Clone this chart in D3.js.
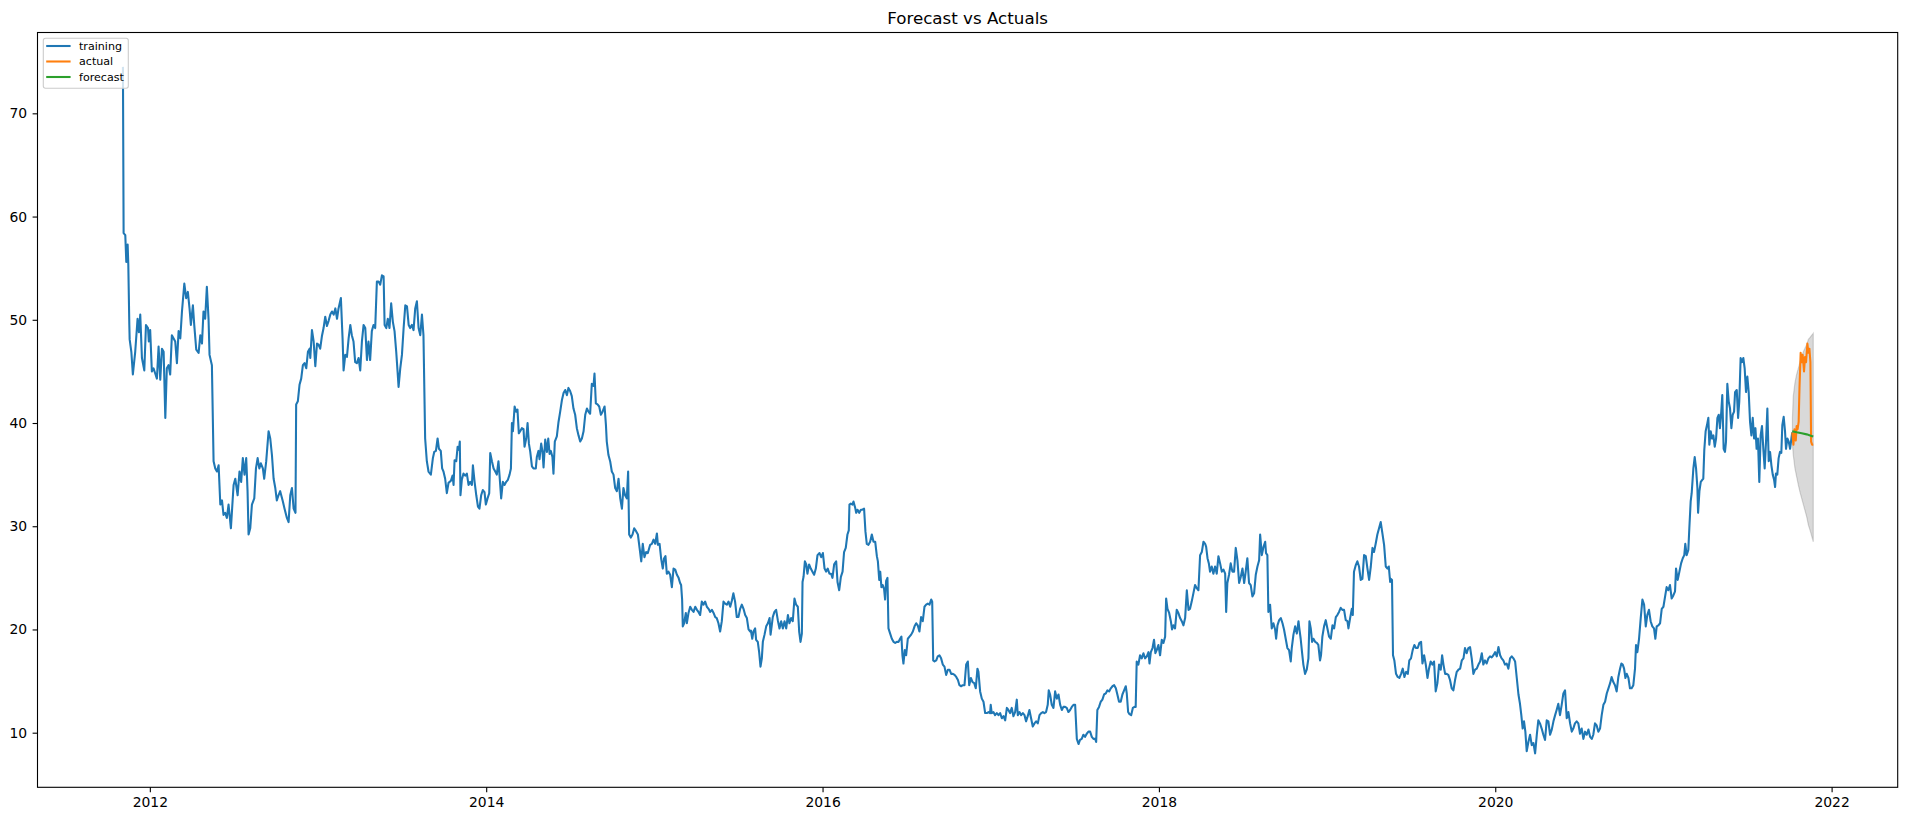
<!DOCTYPE html>
<html>
<head>
<meta charset="utf-8">
<title>Forecast vs Actuals</title>
<script src="https://cdn.jsdelivr.net/npm/d3@7"></script>
<style>
  body { margin: 0; background: #ffffff; }
  text { font-family: "DejaVu Sans", sans-serif; }
</style>
</head>
<body>
<div id="chart"></div>
<script>
const training = [
  [2011.840, 74.5], [2011.844, 58.4], [2011.854, 58.2], [2011.860, 55.6], [2011.868, 57.3], [2011.872, 55.3],
  [2011.878, 49.5], [2011.880, 48.1], [2011.890, 46.9], [2011.899, 44.7], [2011.913, 46.9], [2011.927, 50.1],
  [2011.935, 48.8], [2011.943, 50.5], [2011.953, 46.3], [2011.967, 45.1], [2011.977, 49.5], [2011.989, 49.2],
  [2011.994, 47.9], [2012.002, 49.0], [2012.012, 45.0], [2012.022, 45.3], [2012.032, 44.8], [2012.042, 44.3],
  [2012.052, 47.4], [2012.062, 44.2], [2012.072, 47.2], [2012.082, 46.9], [2012.092, 40.5], [2012.101, 45.3],
  [2012.111, 45.6], [2012.121, 44.7], [2012.131, 48.5], [2012.151, 47.9], [2012.161, 45.8], [2012.171, 48.9],
  [2012.181, 48.2], [2012.191, 50.8], [2012.205, 53.5], [2012.216, 52.1], [2012.226, 52.7], [2012.236, 51.1],
  [2012.244, 49.5], [2012.256, 51.4], [2012.264, 49.5], [2012.276, 47.1], [2012.290, 46.8], [2012.300, 48.5],
  [2012.310, 47.7], [2012.319, 50.8], [2012.329, 50.1], [2012.339, 53.2], [2012.349, 50.1], [2012.355, 46.6],
  [2012.369, 45.6], [2012.379, 36.3], [2012.389, 35.6], [2012.399, 35.3], [2012.409, 35.9], [2012.419, 32.1],
  [2012.429, 32.5], [2012.438, 31.1], [2012.448, 31.3], [2012.458, 30.8], [2012.468, 32.1], [2012.482, 29.8],
  [2012.498, 34.0], [2012.508, 34.6], [2012.522, 33.0], [2012.533, 35.3], [2012.543, 34.3], [2012.553, 36.6],
  [2012.563, 35.0], [2012.573, 36.6], [2012.581, 33.4], [2012.587, 29.2], [2012.597, 29.8], [2012.607, 32.1],
  [2012.621, 32.7], [2012.631, 35.6], [2012.641, 36.6], [2012.651, 35.6], [2012.660, 36.1], [2012.672, 35.6],
  [2012.680, 34.6], [2012.692, 36.3], [2012.706, 39.2], [2012.716, 38.5], [2012.726, 36.9], [2012.736, 34.6],
  [2012.746, 33.7], [2012.755, 32.5], [2012.765, 33.0], [2012.775, 33.4], [2012.791, 32.4], [2012.801, 31.7],
  [2012.815, 30.8], [2012.825, 30.4], [2012.835, 33.0], [2012.845, 33.7], [2012.855, 31.7], [2012.866, 31.3],
  [2012.870, 41.8], [2012.880, 42.1], [2012.890, 43.7], [2012.900, 44.3], [2012.910, 45.6], [2012.920, 45.8],
  [2012.930, 45.3], [2012.940, 46.9], [2012.950, 47.2], [2012.954, 46.3], [2012.964, 49.0], [2012.974, 47.9],
  [2012.984, 45.5], [2012.994, 47.7], [2013.003, 47.6], [2013.013, 47.2], [2013.023, 48.4], [2013.033, 49.2],
  [2013.043, 50.3], [2013.053, 49.4], [2013.063, 49.9], [2013.073, 50.5], [2013.083, 50.8], [2013.093, 50.5],
  [2013.103, 51.1], [2013.113, 50.1], [2013.122, 51.1], [2013.136, 52.1], [2013.146, 48.2], [2013.152, 45.1],
  [2013.162, 46.6], [2013.172, 46.4], [2013.182, 48.2], [2013.192, 49.5], [2013.201, 48.5], [2013.211, 47.9],
  [2013.221, 45.9], [2013.231, 45.8], [2013.241, 46.3], [2013.251, 45.1], [2013.261, 47.9], [2013.271, 49.5],
  [2013.281, 49.2], [2013.291, 46.1], [2013.300, 47.9], [2013.310, 46.1], [2013.320, 48.9], [2013.330, 49.5],
  [2013.340, 49.2], [2013.350, 53.7], [2013.360, 53.7], [2013.370, 53.4], [2013.380, 54.3], [2013.390, 54.2],
  [2013.396, 49.5], [2013.406, 49.2], [2013.415, 50.1], [2013.425, 49.2], [2013.435, 51.6], [2013.445, 49.8],
  [2013.455, 48.9], [2013.465, 46.9], [2013.473, 45.0], [2013.479, 43.5], [2013.489, 45.3], [2013.499, 46.6],
  [2013.509, 49.2], [2013.519, 51.4], [2013.529, 51.3], [2013.539, 49.5], [2013.548, 49.2], [2013.558, 49.5],
  [2013.568, 49.0], [2013.578, 51.1], [2013.588, 51.8], [2013.598, 49.2], [2013.608, 48.5], [2013.618, 50.5],
  [2013.627, 48.5], [2013.637, 38.5], [2013.647, 36.3], [2013.657, 35.3], [2013.671, 35.0], [2013.683, 36.6],
  [2013.691, 37.2], [2013.701, 37.3], [2013.711, 38.5], [2013.719, 37.5], [2013.730, 37.3], [2013.738, 35.6],
  [2013.746, 35.3], [2013.756, 34.6], [2013.766, 33.2], [2013.776, 34.2], [2013.790, 34.4], [2013.800, 34.9],
  [2013.806, 34.0], [2013.812, 36.4], [2013.822, 36.3], [2013.830, 37.7], [2013.838, 37.4], [2013.843, 38.2],
  [2013.847, 33.0], [2013.855, 34.5], [2013.865, 35.1], [2013.875, 34.9], [2013.885, 35.1], [2013.895, 34.0],
  [2013.905, 34.3], [2013.915, 34.0], [2013.921, 35.9], [2013.931, 34.3], [2013.941, 33.0], [2013.951, 31.9],
  [2013.960, 31.7], [2013.970, 33.0], [2013.980, 33.5], [2013.990, 33.3], [2013.998, 32.1], [2014.008, 32.7],
  [2014.018, 33.2], [2014.024, 37.1], [2014.034, 36.3], [2014.044, 35.6], [2014.054, 35.3], [2014.063, 35.0],
  [2014.073, 36.3], [2014.079, 35.0], [2014.089, 32.7], [2014.099, 34.3], [2014.109, 34.0], [2014.119, 34.3],
  [2014.129, 34.5], [2014.139, 35.0], [2014.147, 35.6], [2014.153, 40.0], [2014.159, 39.2], [2014.169, 41.6],
  [2014.178, 41.1], [2014.186, 41.3], [2014.194, 39.0], [2014.202, 39.2], [2014.212, 39.5], [2014.222, 39.4],
  [2014.228, 37.7], [2014.238, 38.5], [2014.246, 40.0], [2014.254, 38.0], [2014.262, 37.2], [2014.272, 35.8],
  [2014.281, 35.6], [2014.295, 35.6], [2014.301, 36.7], [2014.311, 37.3], [2014.317, 36.5], [2014.327, 38.0],
  [2014.335, 37.2], [2014.341, 35.7], [2014.351, 38.4], [2014.361, 37.2], [2014.369, 38.5], [2014.377, 37.0],
  [2014.384, 37.3], [2014.394, 36.7], [2014.400, 35.1], [2014.408, 38.2], [2014.420, 38.7], [2014.430, 40.1],
  [2014.440, 41.1], [2014.450, 42.2], [2014.460, 42.9], [2014.470, 43.2], [2014.480, 42.7], [2014.489, 43.4],
  [2014.499, 43.1], [2014.509, 42.6], [2014.519, 41.4], [2014.529, 40.8], [2014.539, 39.5], [2014.549, 38.8],
  [2014.559, 38.2], [2014.569, 38.5], [2014.579, 39.2], [2014.589, 40.8], [2014.599, 41.4], [2014.608, 41.1],
  [2014.618, 40.9], [2014.628, 43.8], [2014.638, 43.6], [2014.644, 44.8], [2014.652, 41.9], [2014.662, 41.8],
  [2014.672, 41.6], [2014.682, 40.8], [2014.692, 41.1], [2014.704, 41.6], [2014.712, 39.8], [2014.717, 38.2],
  [2014.727, 36.9], [2014.737, 36.3], [2014.747, 35.3], [2014.757, 35.0], [2014.767, 33.7], [2014.777, 33.4],
  [2014.787, 34.6], [2014.797, 32.7], [2014.807, 31.7], [2014.816, 33.7], [2014.826, 33.0], [2014.836, 32.7],
  [2014.844, 35.3], [2014.850, 29.2], [2014.860, 28.9], [2014.870, 29.2], [2014.880, 29.8], [2014.892, 29.5],
  [2014.902, 29.2], [2014.912, 27.9], [2014.922, 26.6], [2014.931, 28.3], [2014.941, 27.0], [2014.951, 27.5],
  [2014.961, 27.4], [2014.975, 28.2], [2014.985, 28.3], [2014.995, 28.7], [2015.005, 28.3], [2015.015, 29.3],
  [2015.021, 28.2], [2015.031, 28.3], [2015.040, 26.9], [2015.050, 25.9], [2015.058, 26.9], [2015.066, 27.1],
  [2015.074, 25.4], [2015.084, 25.6], [2015.094, 25.3], [2015.104, 24.1], [2015.114, 25.9], [2015.124, 25.8],
  [2015.134, 25.3], [2015.144, 25.0], [2015.153, 24.5], [2015.159, 24.3], [2015.165, 22.9], [2015.169, 20.3],
  [2015.177, 20.6], [2015.187, 21.6], [2015.193, 20.6], [2015.203, 21.6], [2015.213, 22.2], [2015.223, 21.9],
  [2015.233, 21.7], [2015.243, 22.2], [2015.253, 21.9], [2015.262, 21.7], [2015.272, 21.4], [2015.282, 22.7],
  [2015.292, 22.4], [2015.302, 22.7], [2015.312, 22.2], [2015.322, 22.0], [2015.332, 21.7], [2015.342, 21.9],
  [2015.352, 21.6], [2015.362, 21.2], [2015.371, 21.1], [2015.381, 20.6], [2015.391, 19.8], [2015.401, 20.8],
  [2015.411, 22.7], [2015.421, 22.5], [2015.431, 22.4], [2015.441, 22.7], [2015.451, 22.2], [2015.461, 22.8],
  [2015.470, 23.5], [2015.480, 22.7], [2015.490, 21.2], [2015.500, 21.2], [2015.510, 22.0], [2015.520, 22.4],
  [2015.530, 22.0], [2015.540, 21.4], [2015.550, 21.1], [2015.560, 20.0], [2015.570, 19.8], [2015.574, 19.9],
  [2015.582, 19.1], [2015.589, 19.8], [2015.599, 20.1], [2015.605, 19.0], [2015.615, 18.8], [2015.623, 17.8],
  [2015.631, 16.4], [2015.639, 17.2], [2015.645, 18.8], [2015.655, 19.5], [2015.665, 20.3], [2015.675, 20.6],
  [2015.685, 21.1], [2015.691, 19.5], [2015.698, 20.4], [2015.704, 21.2], [2015.714, 21.7], [2015.724, 21.9],
  [2015.734, 20.9], [2015.744, 20.1], [2015.754, 20.8], [2015.764, 20.1], [2015.774, 20.8], [2015.784, 20.1],
  [2015.794, 21.4], [2015.803, 20.6], [2015.813, 21.1], [2015.823, 20.8], [2015.833, 23.0], [2015.843, 22.4],
  [2015.853, 22.2], [2015.861, 19.8], [2015.869, 18.8], [2015.877, 19.6], [2015.881, 24.6], [2015.887, 25.1],
  [2015.895, 26.6], [2015.903, 26.3], [2015.910, 25.4], [2015.920, 26.3], [2015.930, 25.9], [2015.940, 25.6],
  [2015.950, 25.3], [2015.960, 25.9], [2015.970, 27.2], [2015.982, 27.4], [2015.992, 27.0], [2016.002, 27.4],
  [2016.012, 25.9], [2016.021, 25.6], [2016.031, 25.9], [2016.041, 25.4], [2016.051, 25.4], [2016.059, 25.0],
  [2016.069, 26.3], [2016.081, 26.6], [2016.089, 24.6], [2016.099, 23.8], [2016.109, 25.1], [2016.119, 25.6],
  [2016.128, 27.5], [2016.138, 27.9], [2016.148, 29.2], [2016.156, 29.6], [2016.160, 32.1], [2016.168, 32.2],
  [2016.178, 32.1], [2016.184, 32.4], [2016.194, 31.8], [2016.200, 31.3], [2016.208, 31.6], [2016.218, 31.3],
  [2016.228, 31.6], [2016.237, 31.6], [2016.247, 31.7], [2016.255, 29.5], [2016.263, 28.3], [2016.273, 28.2],
  [2016.283, 28.5], [2016.293, 29.2], [2016.303, 28.5], [2016.313, 28.5], [2016.323, 27.1], [2016.329, 26.6],
  [2016.337, 24.8], [2016.343, 25.6], [2016.350, 24.1], [2016.358, 24.3], [2016.366, 23.9], [2016.372, 22.9],
  [2016.378, 24.7], [2016.386, 25.0], [2016.392, 20.1], [2016.402, 19.6], [2016.412, 19.1], [2016.422, 18.8],
  [2016.432, 18.7], [2016.442, 18.8], [2016.452, 18.8], [2016.461, 19.1], [2016.469, 19.3], [2016.475, 17.5],
  [2016.481, 16.7], [2016.489, 18.0], [2016.497, 17.5], [2016.507, 19.1], [2016.517, 19.3], [2016.527, 19.5],
  [2016.537, 19.8], [2016.547, 20.3], [2016.557, 20.6], [2016.566, 20.4], [2016.576, 19.8], [2016.586, 21.2],
  [2016.596, 20.8], [2016.606, 22.2], [2016.616, 22.4], [2016.626, 22.5], [2016.636, 22.4], [2016.646, 22.9],
  [2016.652, 22.7], [2016.658, 17.0], [2016.666, 16.9], [2016.676, 17.0], [2016.685, 17.4], [2016.695, 17.5],
  [2016.705, 17.2], [2016.715, 16.6], [2016.725, 16.4], [2016.735, 15.6], [2016.745, 16.1], [2016.755, 16.1],
  [2016.765, 15.7], [2016.775, 15.7], [2016.785, 15.6], [2016.795, 15.4], [2016.805, 15.1], [2016.814, 14.6],
  [2016.824, 14.5], [2016.834, 14.6], [2016.844, 14.6], [2016.854, 16.6], [2016.864, 16.9], [2016.872, 14.6],
  [2016.882, 15.3], [2016.892, 14.9], [2016.902, 14.8], [2016.911, 14.3], [2016.921, 16.2], [2016.927, 15.9],
  [2016.937, 14.0], [2016.947, 13.3], [2016.957, 13.0], [2016.967, 11.9], [2016.977, 11.9], [2016.987, 12.0],
  [2016.996, 11.9], [2017.000, 12.7], [2017.006, 11.9], [2017.016, 12.0], [2017.026, 11.7], [2017.036, 11.9],
  [2017.046, 11.7], [2017.056, 11.9], [2017.066, 11.4], [2017.076, 11.6], [2017.086, 11.2], [2017.096, 12.4],
  [2017.105, 12.2], [2017.115, 11.9], [2017.125, 12.4], [2017.135, 11.6], [2017.145, 12.0], [2017.155, 13.2],
  [2017.161, 11.7], [2017.171, 12.0], [2017.181, 11.7], [2017.191, 11.9], [2017.201, 11.7], [2017.210, 11.1],
  [2017.220, 11.6], [2017.230, 12.2], [2017.240, 11.4], [2017.250, 10.6], [2017.260, 10.9], [2017.270, 11.1],
  [2017.280, 10.9], [2017.290, 11.7], [2017.300, 11.9], [2017.310, 12.0], [2017.319, 11.9], [2017.329, 12.0],
  [2017.339, 12.7], [2017.345, 14.1], [2017.353, 13.7], [2017.363, 12.7], [2017.373, 12.4], [2017.383, 14.0],
  [2017.393, 13.3], [2017.403, 13.7], [2017.413, 12.7], [2017.423, 12.2], [2017.432, 12.5], [2017.442, 12.5],
  [2017.452, 12.4], [2017.462, 12.0], [2017.472, 12.2], [2017.482, 12.5], [2017.492, 12.7], [2017.502, 12.7],
  [2017.512, 9.4], [2017.522, 8.9], [2017.531, 9.3], [2017.541, 9.4], [2017.551, 9.8], [2017.561, 9.6],
  [2017.571, 9.9], [2017.581, 10.1], [2017.591, 10.1], [2017.601, 9.6], [2017.611, 9.4], [2017.621, 9.4],
  [2017.627, 9.1], [2017.634, 12.2], [2017.644, 12.5], [2017.654, 13.0], [2017.664, 13.2], [2017.674, 13.7],
  [2017.684, 13.8], [2017.694, 14.1], [2017.704, 14.0], [2017.714, 14.3], [2017.724, 14.5], [2017.734, 14.6],
  [2017.744, 14.3], [2017.753, 13.7], [2017.763, 13.0], [2017.773, 13.0], [2017.783, 13.7], [2017.793, 14.1],
  [2017.803, 14.5], [2017.809, 13.8], [2017.817, 12.0], [2017.825, 11.8], [2017.835, 11.7], [2017.845, 12.4],
  [2017.855, 12.5], [2017.862, 12.5], [2017.868, 16.9], [2017.878, 16.6], [2017.888, 17.5], [2017.898, 17.2],
  [2017.908, 17.7], [2017.918, 17.2], [2017.928, 17.4], [2017.938, 17.8], [2017.944, 16.7], [2017.952, 17.8],
  [2017.962, 18.2], [2017.971, 19.0], [2017.979, 17.7], [2017.987, 18.0], [2017.997, 18.5], [2018.007, 17.5],
  [2018.017, 19.0], [2018.027, 18.7], [2018.037, 19.3], [2018.043, 23.0], [2018.051, 22.0], [2018.061, 21.6],
  [2018.071, 20.8], [2018.078, 20.0], [2018.086, 20.4], [2018.096, 20.1], [2018.106, 21.9], [2018.116, 21.6],
  [2018.126, 21.1], [2018.136, 20.8], [2018.146, 20.4], [2018.156, 21.1], [2018.166, 23.8], [2018.176, 21.9],
  [2018.185, 22.0], [2018.195, 22.7], [2018.205, 23.5], [2018.215, 24.3], [2018.225, 24.0], [2018.235, 23.8],
  [2018.245, 27.2], [2018.255, 27.5], [2018.265, 28.5], [2018.275, 28.3], [2018.281, 28.0], [2018.289, 26.9],
  [2018.297, 26.4], [2018.304, 25.6], [2018.314, 26.1], [2018.324, 25.4], [2018.334, 26.1], [2018.344, 25.4],
  [2018.354, 27.1], [2018.364, 26.4], [2018.374, 25.6], [2018.384, 25.8], [2018.394, 25.4], [2018.400, 21.7],
  [2018.407, 24.5], [2018.417, 25.3], [2018.427, 26.4], [2018.437, 25.6], [2018.447, 25.6], [2018.457, 27.9],
  [2018.467, 26.7], [2018.477, 24.5], [2018.487, 25.1], [2018.497, 25.9], [2018.507, 24.5], [2018.516, 25.6],
  [2018.526, 26.9], [2018.536, 24.5], [2018.546, 24.3], [2018.556, 23.2], [2018.566, 23.5], [2018.576, 25.3],
  [2018.586, 26.1], [2018.596, 26.7], [2018.602, 29.2], [2018.612, 27.2], [2018.622, 28.0], [2018.632, 28.5],
  [2018.637, 27.4], [2018.645, 27.2], [2018.651, 21.7], [2018.661, 22.4], [2018.671, 20.1], [2018.681, 20.6],
  [2018.691, 20.0], [2018.697, 19.1], [2018.705, 20.4], [2018.715, 20.9], [2018.725, 21.1], [2018.735, 20.6],
  [2018.744, 20.0], [2018.754, 19.1], [2018.764, 18.2], [2018.774, 18.0], [2018.784, 16.9], [2018.790, 18.2],
  [2018.800, 19.5], [2018.810, 20.3], [2018.820, 19.6], [2018.830, 20.8], [2018.835, 20.1], [2018.843, 19.1],
  [2018.851, 17.8], [2018.859, 16.6], [2018.869, 15.7], [2018.879, 16.1], [2018.889, 17.2], [2018.895, 20.8],
  [2018.903, 20.1], [2018.911, 18.8], [2018.919, 19.1], [2018.929, 18.8], [2018.939, 18.7], [2018.948, 18.5],
  [2018.958, 17.0], [2018.964, 17.5], [2018.972, 19.3], [2018.982, 20.3], [2018.992, 20.9], [2019.002, 20.1],
  [2019.012, 19.3], [2019.022, 19.1], [2019.032, 20.4], [2019.042, 20.1], [2019.052, 21.2], [2019.061, 21.4],
  [2019.071, 21.7], [2019.081, 22.1], [2019.091, 21.9], [2019.101, 21.9], [2019.111, 20.9], [2019.121, 20.8],
  [2019.127, 20.1], [2019.137, 21.1], [2019.147, 22.0], [2019.153, 21.4], [2019.160, 25.6], [2019.170, 26.2],
  [2019.180, 26.6], [2019.190, 26.1], [2019.200, 24.8], [2019.210, 24.9], [2019.220, 27.2], [2019.230, 27.1],
  [2019.240, 25.9], [2019.250, 24.8], [2019.260, 26.1], [2019.270, 27.9], [2019.279, 27.5], [2019.289, 28.3],
  [2019.299, 29.2], [2019.309, 29.8], [2019.319, 30.4], [2019.329, 29.3], [2019.339, 28.2], [2019.349, 26.1],
  [2019.359, 25.9], [2019.367, 26.1], [2019.375, 24.6], [2019.380, 24.9], [2019.386, 24.8], [2019.392, 17.5],
  [2019.400, 17.0], [2019.410, 15.7], [2019.420, 15.4], [2019.430, 15.3], [2019.440, 15.7], [2019.450, 16.2],
  [2019.460, 15.4], [2019.470, 15.9], [2019.480, 15.7], [2019.489, 17.0], [2019.499, 17.2], [2019.509, 18.0],
  [2019.519, 18.5], [2019.529, 18.2], [2019.539, 18.2], [2019.549, 18.7], [2019.559, 18.8], [2019.567, 16.7],
  [2019.577, 17.5], [2019.587, 16.6], [2019.597, 15.3], [2019.606, 16.2], [2019.616, 16.9], [2019.626, 16.6],
  [2019.636, 16.9], [2019.646, 14.0], [2019.656, 14.8], [2019.666, 16.6], [2019.676, 16.1], [2019.684, 17.5],
  [2019.692, 16.6], [2019.702, 15.7], [2019.711, 15.7], [2019.721, 15.6], [2019.731, 15.1], [2019.741, 14.3],
  [2019.751, 14.1], [2019.761, 15.1], [2019.771, 15.9], [2019.781, 16.1], [2019.791, 16.2], [2019.801, 17.0],
  [2019.811, 17.2], [2019.820, 18.2], [2019.830, 17.7], [2019.840, 18.2], [2019.850, 18.3], [2019.860, 17.2],
  [2019.870, 15.7], [2019.880, 16.1], [2019.890, 16.2], [2019.900, 16.6], [2019.910, 16.9], [2019.920, 17.7],
  [2019.929, 16.6], [2019.939, 17.0], [2019.949, 16.7], [2019.959, 17.2], [2019.969, 17.4], [2019.979, 17.3],
  [2019.989, 17.5], [2019.999, 17.8], [2020.009, 17.4], [2020.019, 18.3], [2020.029, 17.5], [2020.038, 17.2],
  [2020.048, 17.0], [2020.058, 16.6], [2020.068, 16.7], [2020.078, 16.2], [2020.088, 17.2], [2020.098, 17.4],
  [2020.108, 17.2], [2020.118, 16.9], [2020.128, 15.3], [2020.138, 13.7], [2020.147, 12.8], [2020.155, 11.7],
  [2020.163, 10.4], [2020.171, 11.1], [2020.179, 10.1], [2020.187, 8.2], [2020.197, 9.1], [2020.207, 9.8],
  [2020.217, 8.8], [2020.227, 9.0], [2020.237, 8.0], [2020.247, 9.8], [2020.256, 11.2], [2020.266, 10.9],
  [2020.276, 10.4], [2020.286, 9.8], [2020.296, 9.3], [2020.306, 11.2], [2020.316, 11.1], [2020.326, 9.8],
  [2020.336, 10.3], [2020.346, 11.1], [2020.356, 11.7], [2020.365, 12.2], [2020.375, 12.8], [2020.385, 11.7],
  [2020.395, 12.7], [2020.405, 13.8], [2020.415, 14.1], [2020.425, 11.4], [2020.435, 12.0], [2020.445, 10.9],
  [2020.455, 10.1], [2020.464, 10.4], [2020.474, 10.9], [2020.484, 11.1], [2020.494, 10.9], [2020.504, 9.9],
  [2020.514, 10.4], [2020.524, 9.4], [2020.534, 10.1], [2020.544, 9.8], [2020.554, 10.3], [2020.564, 9.6],
  [2020.574, 9.4], [2020.583, 9.8], [2020.593, 10.9], [2020.603, 10.7], [2020.613, 10.1], [2020.623, 10.4],
  [2020.633, 11.7], [2020.643, 12.7], [2020.653, 13.0], [2020.663, 13.8], [2020.673, 14.3], [2020.683, 14.8],
  [2020.692, 15.4], [2020.702, 14.9], [2020.712, 14.6], [2020.722, 14.0], [2020.732, 15.4], [2020.742, 16.2],
  [2020.750, 16.7], [2020.758, 16.6], [2020.766, 16.2], [2020.774, 15.3], [2020.782, 15.7], [2020.792, 15.3],
  [2020.801, 14.3], [2020.811, 14.3], [2020.821, 14.6], [2020.831, 16.2], [2020.837, 18.5], [2020.845, 17.8],
  [2020.855, 19.1], [2020.865, 21.1], [2020.875, 22.9], [2020.885, 22.4], [2020.895, 20.3], [2020.904, 21.4],
  [2020.914, 21.9], [2020.924, 20.8], [2020.934, 20.3], [2020.944, 20.1], [2020.952, 19.1], [2020.960, 20.3],
  [2020.970, 20.4], [2020.980, 20.6], [2020.990, 22.0], [2021.000, 22.2], [2021.010, 23.2], [2021.019, 24.1],
  [2021.029, 23.8], [2021.039, 24.3], [2021.049, 23.0], [2021.059, 23.3], [2021.069, 23.7], [2021.075, 25.9],
  [2021.085, 24.8], [2021.095, 25.6], [2021.105, 26.4], [2021.115, 26.9], [2021.124, 27.2], [2021.130, 28.3],
  [2021.138, 27.2], [2021.148, 27.7], [2021.154, 29.8], [2021.162, 32.4], [2021.168, 33.2], [2021.178, 35.6],
  [2021.186, 36.7], [2021.194, 35.6], [2021.202, 33.7], [2021.206, 31.3], [2021.214, 33.4], [2021.222, 34.3],
  [2021.231, 34.5], [2021.237, 34.6], [2021.243, 37.4], [2021.251, 39.2], [2021.259, 39.8], [2021.267, 40.5],
  [2021.273, 37.9], [2021.281, 39.2], [2021.289, 38.5], [2021.297, 38.8], [2021.305, 37.7], [2021.313, 38.5],
  [2021.321, 40.5], [2021.329, 40.8], [2021.336, 39.5], [2021.344, 41.1], [2021.350, 42.7], [2021.358, 37.5],
  [2021.366, 37.2], [2021.372, 38.2], [2021.380, 43.8], [2021.388, 42.1], [2021.396, 41.4], [2021.404, 39.5],
  [2021.412, 40.8], [2021.420, 41.1], [2021.426, 43.0], [2021.436, 43.2], [2021.444, 40.5], [2021.451, 42.1],
  [2021.459, 46.3], [2021.467, 45.9], [2021.475, 46.3], [2021.483, 45.3], [2021.491, 43.0], [2021.499, 44.5],
  [2021.507, 43.0], [2021.515, 40.1], [2021.523, 38.8], [2021.531, 40.5], [2021.539, 38.5], [2021.547, 39.5],
  [2021.554, 37.5], [2021.562, 38.5], [2021.570, 34.3], [2021.578, 38.8], [2021.586, 39.7], [2021.594, 37.5],
  [2021.602, 35.6], [2021.610, 38.2], [2021.618, 41.4], [2021.626, 36.3], [2021.634, 37.2], [2021.642, 35.9],
  [2021.650, 35.0], [2021.658, 34.5], [2021.664, 33.8], [2021.669, 35.1], [2021.677, 35.0], [2021.685, 36.6],
  [2021.693, 37.2], [2021.701, 37.1], [2021.707, 39.8], [2021.715, 40.6], [2021.723, 39.2], [2021.729, 37.5],
  [2021.737, 38.5], [2021.745, 38.2], [2021.753, 37.5], [2021.761, 38.5], [2021.766, 39.1]
];

const actual = [
  [2021.766, 39.1], [2021.773, 37.9], [2021.779, 39.4], [2021.787, 38.3], [2021.792, 39.7], [2021.798, 39.4],
  [2021.804, 40.1], [2021.809, 43.4], [2021.816, 46.8], [2021.822, 45.9], [2021.828, 46.6], [2021.836, 45.0],
  [2021.842, 46.4], [2021.848, 45.9], [2021.856, 47.7], [2021.862, 46.8], [2021.868, 47.2], [2021.874, 45.9],
  [2021.878, 38.2], [2021.884, 37.9], [2021.891, 37.9]
];

const forecast = [
  [2021.766, 39.2], [2021.792, 39.1], [2021.822, 39.0], [2021.852, 38.9], [2021.872, 38.8], [2021.891, 38.7]
];

// confidence interval of the forecast
const bandYears = [2021.767, 2021.772, 2021.782, 2021.792, 2021.802, 2021.812, 2021.832, 2021.852, 2021.862, 2021.872, 2021.891];
const bandLower = [38.0, 36.9, 35.6, 34.8, 34.0, 33.3, 32.1, 30.9, 30.1, 29.6, 28.5];
const bandUpper = [40.5, 42.6, 43.9, 44.7, 45.3, 45.9, 46.9, 47.6, 48.1, 48.3, 48.7];

const xTicks = [2012, 2014, 2016, 2018, 2020, 2022];
const yTicks = [10, 20, 30, 40, 50, 60, 70];

const seriesInfo = [
  {label: "training", color: "#1f77b4", data: training},
  {label: "actual", color: "#ff7f0e", data: actual},
  {label: "forecast", color: "#2ca02c", data: forecast}
];

const width = 1907;
const height = 821;
const margin = {top: 32.5, right: 9.3, bottom: 33.7, left: 37.5};

const svg = d3.select("#chart")
  .append("svg")
  .attr("width", width)
  .attr("height", height);

const xScale = d3.scaleLinear()
  .domain([2011.332, 2022.393])
  .range([margin.left, width - margin.right]);

const yScale = d3.scaleLinear()
  .domain([4.71, 77.83])
  .range([height - margin.bottom, margin.top]);

// grey band sits under the lines
const band = d3.area()
  .x((d, i) => xScale(bandYears[i]))
  .y0((d, i) => yScale(bandLower[i]))
  .y1((d, i) => yScale(bandUpper[i]));

svg.append("path")
  .datum(bandYears)
  .attr("fill", "#000")
  .attr("fill-opacity", 0.15)
  .attr("stroke", "#000")
  .attr("stroke-opacity", 0.15)
  .attr("stroke-width", 1.2)
  .attr("d", band);

const line = d3.line()
  .x(d => xScale(d[0]))
  .y(d => yScale(d[1]));

seriesInfo.forEach(s => {
  svg.append("path")
    .datum(s.data)
    .attr("fill", "none")
    .attr("stroke", s.color)
    .attr("stroke-width", 2.08)
    .attr("stroke-linejoin", "round")
    .attr("d", line);
});

// axes
const xAxis = svg.append("g")
  .attr("transform", `translate(0,${height - margin.bottom})`)
  .call(d3.axisBottom(xScale)
    .tickValues(xTicks)
    .tickFormat(d3.format("d"))
    .tickSizeOuter(0)
    .tickSize(4.9)
    .tickPadding(4.9));

const yAxis = svg.append("g")
  .attr("transform", `translate(${margin.left},0)`)
  .call(d3.axisLeft(yScale)
    .tickValues(yTicks)
    .tickSizeOuter(0)
    .tickSize(4.9)
    .tickPadding(5.5));

[xAxis, yAxis].forEach(g => {
  g.select(".domain").remove();
  g.selectAll(".tick line").attr("stroke", "#000").attr("stroke-width", 1.1);
  g.selectAll(".tick text")
    .attr("fill", "#000")
    .style("font-family", "'DejaVu Sans', sans-serif")
    .style("font-size", "13.9px");
});

// frame
svg.append("rect")
  .attr("x", margin.left)
  .attr("y", margin.top)
  .attr("width", width - margin.left - margin.right)
  .attr("height", height - margin.top - margin.bottom)
  .attr("fill", "none")
  .attr("stroke", "#000")
  .attr("stroke-width", 1.1);

// title
svg.append("text")
  .attr("x", (margin.left + width - margin.right) / 2)
  .attr("y", 24.2)
  .attr("text-anchor", "middle")
  .style("font-size", "16.7px")
  .attr("fill", "#000")
  .text("Forecast vs Actuals");

// legend
const legend = svg.append("g");

legend.append("rect")
  .attr("x", 43.3)
  .attr("y", 38.3)
  .attr("width", 85)
  .attr("height", 50)
  .attr("rx", 2.2)
  .attr("fill", "#fff")
  .attr("fill-opacity", 0.8)
  .attr("stroke", "#cccccc")
  .attr("stroke-width", 1.1);

seriesInfo.forEach((s, i) => {
  const ly = 46 + i * 15.5;
  legend.append("line")
    .attr("x1", 46.2)
    .attr("x2", 70.6)
    .attr("y1", ly)
    .attr("y2", ly)
    .attr("stroke", s.color)
    .attr("stroke-width", 2.08);
  legend.append("text")
    .attr("x", 79)
    .attr("y", ly + 3.9)
    .style("font-size", "11.1px")
    .attr("fill", "#000")
    .text(s.label);
});
</script>
</body>
</html>
